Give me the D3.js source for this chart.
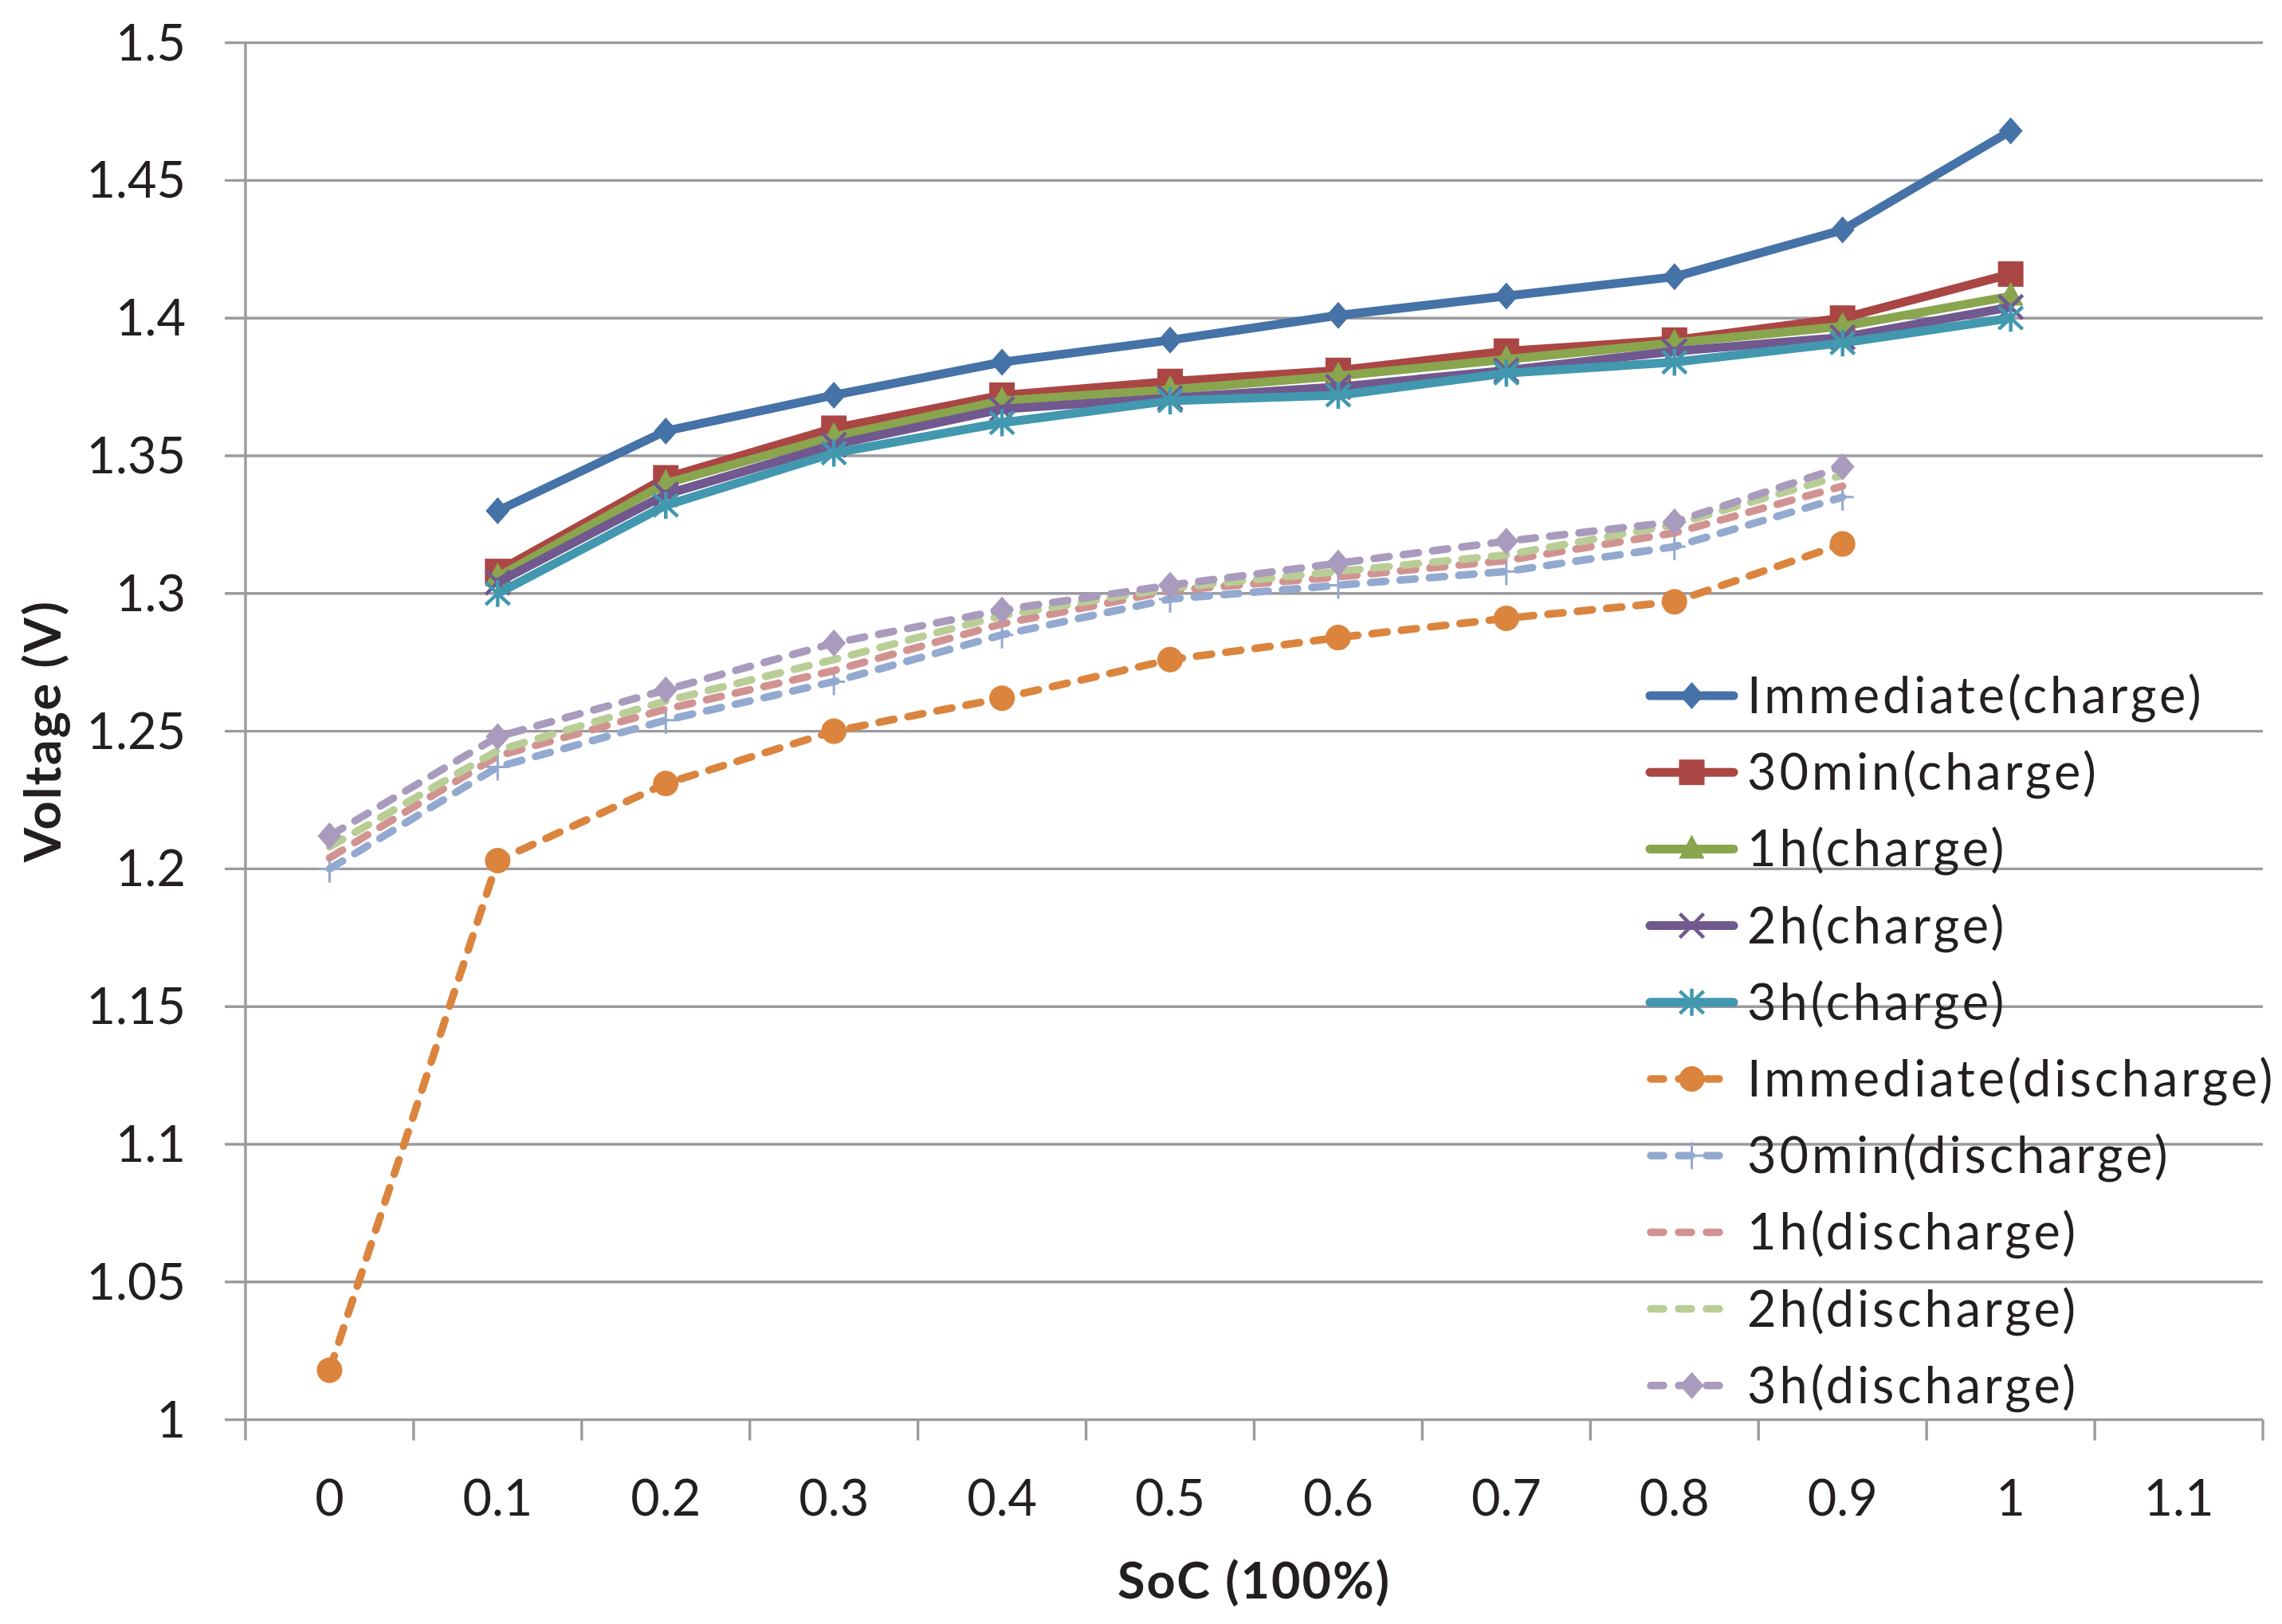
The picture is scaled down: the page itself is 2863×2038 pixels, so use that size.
<!DOCTYPE html>
<html><head><meta charset="utf-8">
<script src="https://cdn.jsdelivr.net/npm/d3@7"></script>
<style>html,body{margin:0;padding:0;background:#fff;} svg{display:block;}</style>
</head><body>
<script>
const categories = ["0","0.1","0.2","0.3","0.4","0.5","0.6","0.7","0.8","0.9","1","1.1"];
const yTicks = [1,1.05,1.1,1.15,1.2,1.25,1.3,1.35,1.4,1.45,1.5];

// charge series at SoC 0.1 .. 1
const chargeCats = ["0.1","0.2","0.3","0.4","0.5","0.6","0.7","0.8","0.9","1"];
const immCharge  = [1.330,1.359,1.372,1.384,1.392,1.401,1.408,1.415,1.432,1.468];
const m30Charge  = [1.308,1.342,1.360,1.372,1.377,1.381,1.388,1.392,1.400,1.416];
const h1Charge   = [1.306,1.340,1.357,1.370,1.374,1.379,1.385,1.391,1.397,1.408];
const h2Charge   = [1.304,1.336,1.354,1.367,1.371,1.375,1.381,1.388,1.393,1.404];
const h3Charge   = [1.300,1.332,1.351,1.362,1.370,1.372,1.380,1.384,1.391,1.400];

// discharge series at SoC 0 .. 0.9
const dischargeCats = ["0","0.1","0.2","0.3","0.4","0.5","0.6","0.7","0.8","0.9"];
const immDischarge = [1.018,1.203,1.231,1.250,1.262,1.276,1.284,1.291,1.297,1.318];
const m30Discharge = [1.200,1.237,1.254,1.268,1.285,1.298,1.303,1.308,1.317,1.335];
const h1Discharge  = [1.204,1.241,1.258,1.272,1.289,1.301,1.306,1.312,1.322,1.339];
const h2Discharge  = [1.208,1.243,1.261,1.276,1.292,1.302,1.308,1.314,1.325,1.343];
const h3Discharge  = [1.212,1.248,1.265,1.282,1.294,1.303,1.311,1.319,1.326,1.346];

const seriesNames = ["Immediate(charge)","30min(charge)","1h(charge)","2h(charge)","3h(charge)",
  "Immediate(discharge)","30min(discharge)","1h(discharge)","2h(discharge)","3h(discharge)"];
const seriesColors = ["#4572A7","#AA4643","#89A54E","#71588F","#4198AF",
  "#DB843D","#93A9CF","#D19392","#B9CD96","#A99BBD"];
const seriesMarkers = ["diamond","square","triangle","x","star","circle","plus","none","none","diamond"];
const seriesDashed = [false,false,false,false,false,true,true,true,true,true];
const seriesValues = [immCharge,m30Charge,h1Charge,h2Charge,h3Charge,
  immDischarge,m30Discharge,h1Discharge,h2Discharge,h3Discharge];
const seriesCats = [chargeCats,chargeCats,chargeCats,chargeCats,chargeCats,
  dischargeCats,dischargeCats,dischargeCats,dischargeCats,dischargeCats];

const W = 2863, H = 2038;
const plot = {left:308, right:2839, top:53.6, bottom:1781.6};
const FONT = "Lato, 'Open Sans', sans-serif";
const gridColor = "#9b9b9f";

const svg = d3.select("body").append("svg").attr("width",W).attr("height",H)
  .attr("viewBox",`0 0 ${W} ${H}`);
svg.append("rect").attr("width",W).attr("height",H).attr("fill","#fff");

const x = d3.scaleBand().domain(categories).range([plot.left, plot.right]).padding(0);
const xc = c => x(c) + x.bandwidth()/2;
const y = d3.scaleLinear().domain([1,1.5]).range([plot.bottom, plot.top]);

// gridlines
svg.append("g").selectAll("line").data(yTicks).join("line")
  .attr("x1",plot.left-26).attr("x2",plot.right)
  .attr("y1",d=>y(d)).attr("y2",d=>y(d))
  .attr("stroke",gridColor).attr("stroke-width",3.4);

// y axis line
svg.append("line").attr("x1",plot.left).attr("x2",plot.left)
  .attr("y1",plot.top).attr("y2",plot.bottom+26)
  .attr("stroke",gridColor).attr("stroke-width",3.4);

// x axis ticks at category boundaries
const boundaries = categories.map(c=>x(c)).concat([plot.right]);
svg.append("g").selectAll("line").data(boundaries.slice(1)).join("line")
  .attr("x1",d=>d).attr("x2",d=>d).attr("y1",plot.bottom).attr("y2",plot.bottom+26)
  .attr("stroke",gridColor).attr("stroke-width",3.4);

// y tick labels
svg.append("g").selectAll("text").data(yTicks).join("text")
  .attr("x",233).attr("y",d=>y(d)+22)
  .attr("text-anchor","end").attr("font-family",FONT).attr("font-size",63)
  .attr("fill","#231f20")
  .text(d=>String(+d.toFixed(2)));

// x tick labels
svg.append("g").selectAll("text").data(categories).join("text")
  .attr("x",d=>xc(d)).attr("y",1902)
  .attr("text-anchor","middle").attr("font-family",FONT).attr("font-size",63)
  .attr("fill","#231f20")
  .text(d=>d);

// axis titles
svg.append("text").attr("transform",`translate(76,${(plot.top+plot.bottom)/2}) rotate(-90)`)
  .attr("text-anchor","middle").attr("font-family",FONT).attr("font-weight","bold")
  .attr("font-size",63).attr("letter-spacing",2).attr("fill","#231f20").text("Voltage (V)");
svg.append("text").attr("x",(plot.left+plot.right)/2).attr("y",2006)
  .attr("text-anchor","middle").attr("font-family",FONT).attr("font-weight","bold")
  .attr("font-size",63).attr("letter-spacing",2).attr("fill","#231f20").text("SoC (100%)");

// marker drawing
function drawMarker(g, type, color, cx, cy){
  if(type==="diamond"){
    g.append("path").attr("d",`M${cx},${cy-17}L${cx+15},${cy}L${cx},${cy+17}L${cx-15},${cy}Z`)
      .attr("fill",color);
  } else if(type==="square"){
    g.append("rect").attr("x",cx-16).attr("y",cy-16).attr("width",32).attr("height",32).attr("fill",color);
  } else if(type==="triangle"){
    g.append("path").attr("d",`M${cx},${cy-18}L${cx+16},${cy+12}L${cx-16},${cy+12}Z`).attr("fill",color);
  } else if(type==="x"){
    g.append("path").attr("d",`M${cx-15},${cy-15}L${cx+15},${cy+15}M${cx+15},${cy-15}L${cx-15},${cy+15}`)
      .attr("stroke",color).attr("stroke-width",4.5).attr("fill","none");
  } else if(type==="star"){
    g.append("path").attr("d",`M${cx-15},${cy-14}L${cx+15},${cy+14}M${cx+15},${cy-14}L${cx-15},${cy+14}M${cx},${cy-17}L${cx},${cy+17}`)
      .attr("stroke",color).attr("stroke-width",4.5).attr("fill","none");
  } else if(type==="circle"){
    g.append("circle").attr("cx",cx).attr("cy",cy).attr("r",16).attr("fill",color);
  } else if(type==="plus"){
    g.append("path").attr("d",`M${cx-14},${cy}L${cx+14},${cy}M${cx},${cy-17}L${cx},${cy+17}`)
      .attr("stroke",color).attr("stroke-width",3).attr("fill","none");
  }
}

// series
const line = d3.line().x(d=>xc(d[0])).y(d=>y(d[1]));
seriesNames.forEach((name,i)=>{
  const pts = seriesCats[i].map((c,k)=>[c, seriesValues[i][k]]);
  const g = svg.append("g");
  g.append("path").attr("d",line(pts)).attr("fill","none")
    .attr("stroke",seriesColors[i]).attr("stroke-width",seriesDashed[i]?9.5:11)
    .attr("stroke-linejoin","round")
    .attr("stroke-linecap",seriesDashed[i]?"round":"butt")
    .attr("stroke-dasharray",seriesDashed[i]?"19 18":null);
  pts.forEach(p=>drawMarker(g, seriesMarkers[i], seriesColors[i], xc(p[0]), y(p[1])));
});

// legend
const legX1 = 2066, legX2 = 2179, legTextX = 2192;
const legY0 = 873, legStep = 96.2;
seriesNames.forEach((name,i)=>{
  const cy = legY0 + i*legStep;
  const g = svg.append("g");
  if(seriesDashed[i]){
    g.append("line").attr("x1",legX1+5).attr("x2",legX2-12).attr("y1",cy).attr("y2",cy)
      .attr("stroke",seriesColors[i]).attr("stroke-width",9.5).attr("stroke-linecap","round")
      .attr("stroke-dasharray","16 19");
  } else {
    g.append("line").attr("x1",legX1+4).attr("x2",legX2-4).attr("y1",cy).attr("y2",cy)
      .attr("stroke",seriesColors[i]).attr("stroke-width",11).attr("stroke-linecap","round");
  }
  drawMarker(g, seriesMarkers[i], seriesColors[i], (legX1+legX2)/2, cy);
  g.append("text").attr("x",legTextX).attr("y",cy+22)
    .attr("font-family",FONT).attr("font-size",63).attr("letter-spacing",4)
    .attr("fill","#231f20").text(name);
});
</script>
</body></html>
